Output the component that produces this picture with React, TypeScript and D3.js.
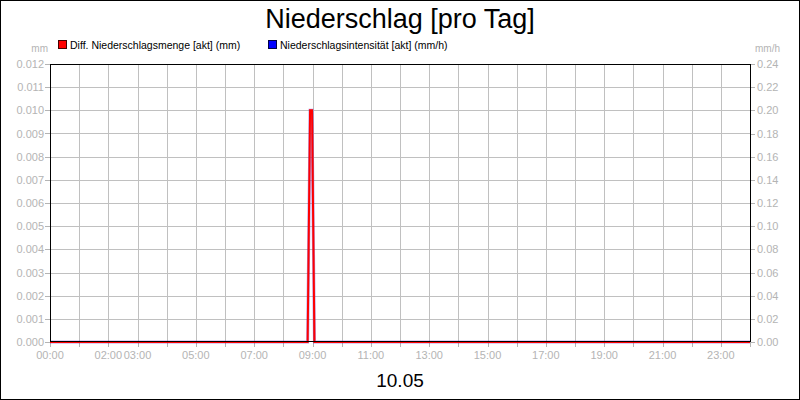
import React from "react";
import * as d3 from "d3";

// readings of the day (hh:mm)
const times = ["00:00", "08:50", "08:55", "08:59", "09:04", "24:00"];
const amountMm = [0, 0, 0.01, 0.01, 0, 0];
const intensityMmH = [0, 0, 0.2, 0.2, 0, 0];

const leftTicks = d3.range(0, 13).map((i) => i * 0.001);
const rightTicks = d3.range(0, 13).map((i) => i * 0.02);
const hourLabels = ["00:00", "02:00", "03:00", "05:00", "07:00", "09:00", "11:00", "13:00", "15:00", "17:00", "19:00", "21:00", "23:00"];

const W = 800;
const H = 400;
const plot = { left: 50, right: 750, top: 64, bottom: 342 };
const font = "Arial, 'Liberation Sans', sans-serif";
const grey = "#b4b4b4";

const toMin = (t: string) => {
  const [h, m] = t.split(":").map(Number);
  return h * 60 + m;
};

const App: React.FC = () => {
  const x = d3.scaleLinear().domain([0, 1440]).range([plot.left, plot.right]);
  const yL = d3.scaleLinear().domain([0, 0.012]).range([plot.bottom, plot.top]);
  const yR = d3.scaleLinear().domain([0, 0.24]).range([plot.bottom, plot.top]);

  const amountLine = d3
    .line<number>()
    .x((_, i) => x(toMin(times[i])))
    .y((d) => yL(d))(amountMm) as string;
  const intensityLine = d3
    .line<number>()
    .x((_, i) => x(toMin(times[i])))
    .y((d) => yR(d))(intensityMmH) as string;

  const hours = d3.range(0, 25);

  return (
    <svg width={W} height={H} style={{ position: "absolute", left: 0, top: 0, fontFamily: font }}>
      <rect x={0.5} y={0.5} width={W - 1} height={H - 1} fill="#fff" stroke="#000" />

      <text x={400} y={28} textAnchor="middle" fontSize={27} fill="#000">
        Niederschlag [pro Tag]
      </text>

      {/* legend */}
      <rect x={58.5} y={40.5} width={8} height={8} fill="#ff0000" stroke="#400" />
      <text x={70} y={49} fontSize={10.5} fill="#000">Diff. Niederschlagsmenge [akt] (mm)</text>
      <rect x={268.5} y={40.5} width={8} height={8} fill="#0000ff" stroke="#004" />
      <text x={280} y={49} fontSize={10.5} fill="#000">Niederschlagsintensität [akt] (mm/h)</text>

      <text x={48} y={52} fontSize={10} fill={grey} textAnchor="end">mm</text>
      <text x={755} y={52} fontSize={10} fill={grey}>mm/h</text>

      {/* grid */}
      {hours.slice(1, 24).map((h) => (
        <line key={"v" + h} x1={Math.round(x(h * 60)) + 0.5} x2={Math.round(x(h * 60)) + 0.5} y1={plot.top} y2={plot.bottom} stroke="#c0c0c0" />
      ))}
      {leftTicks.slice(1, 12).map((t) => (
        <line key={"h" + t} x1={plot.left} x2={plot.right} y1={Math.round(yL(t)) + 0.5} y2={Math.round(yL(t)) + 0.5} stroke="#c0c0c0" />
      ))}

      {/* ticks */}
      {hours.map((h) => (
        <line key={"xt" + h} x1={Math.round(x(h * 60)) + 0.5} x2={Math.round(x(h * 60)) + 0.5} y1={plot.bottom} y2={plot.bottom + 5} stroke={grey} />
      ))}
      {hourLabels.map((l) => (
        <text key={l} x={x(toMin(l))} y={359} fontSize={11} fill={grey} textAnchor="middle">{l}</text>
      ))}
      {leftTicks.map((t) => (
        <g key={"l" + t}>
          <line x1={plot.left - 5} x2={plot.left} y1={Math.round(yL(t)) + 0.5} y2={Math.round(yL(t)) + 0.5} stroke={grey} />
          <text x={44} y={yL(t) + 4} fontSize={11} fill={grey} textAnchor="end">{t.toFixed(3)}</text>
        </g>
      ))}
      {rightTicks.map((t) => (
        <g key={"r" + t}>
          <line x1={plot.right} x2={plot.right + 5} y1={Math.round(yR(t)) + 0.5} y2={Math.round(yR(t)) + 0.5} stroke={grey} />
          <text x={757} y={yR(t) + 4} fontSize={11} fill={grey}>{t.toFixed(2)}</text>
        </g>
      ))}

      {/* series */}
      <path d={intensityLine} fill="none" stroke="#6020c0" strokeOpacity={0.45} strokeWidth={3} />
      <path d={amountLine} fill="none" stroke="#ff0000" strokeWidth={2} />

      {/* frame, on top so the zero line sits just under the black axis */}
      <rect x={plot.left + 0.5} y={plot.top + 0.5} width={plot.right - plot.left} height={plot.bottom - plot.top - 1} fill="none" stroke="#000" />

      <text x={400} y={387} fontSize={19} fill="#000" textAnchor="middle">10.05</text>
    </svg>
  );
};

export default App;
